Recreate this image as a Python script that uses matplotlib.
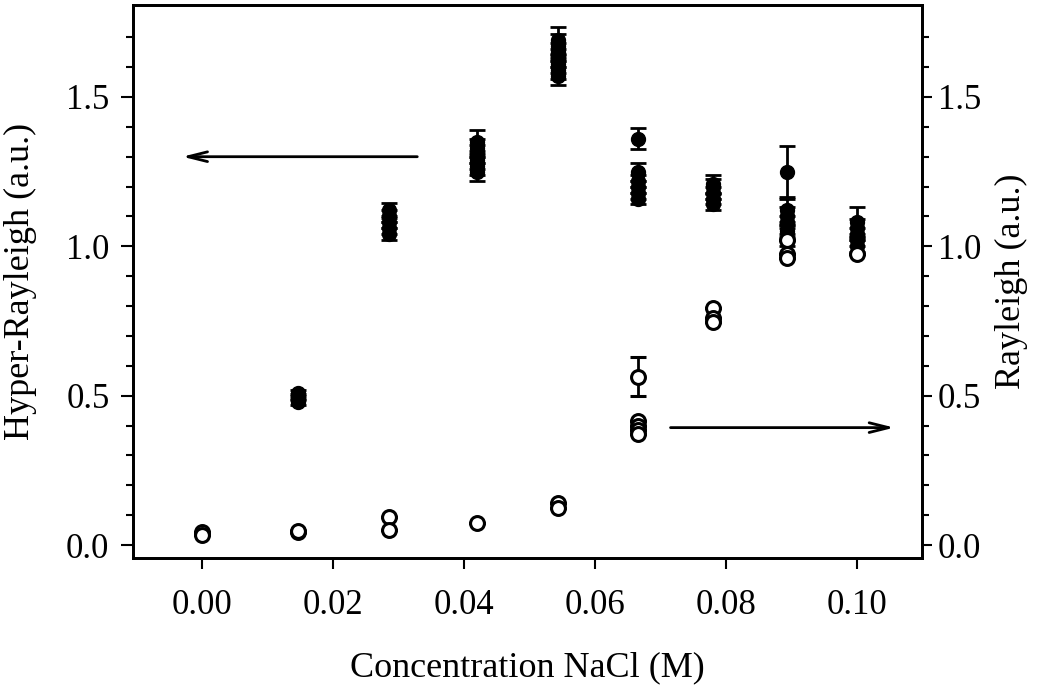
import matplotlib.pyplot as plt
import numpy as np

plt.rcParams['font.family'] = ['Liberation Serif', 'DejaVu Serif']

# Hyper-Rayleigh (filled circles, left axis)
hr_x = [0.0146] * 3 + [0.0286] * 5 + [0.042] * 6 + [0.0544] * 7 + \
       [0.0666] * 6 + [0.078] * 5 + [0.0893] * 6 + [0.100] * 5
hr_y = [0.48, 0.495, 0.51,
        1.04, 1.06, 1.08, 1.10, 1.12,
        1.25, 1.27, 1.29, 1.31, 1.33, 1.35,
        1.57, 1.59, 1.61, 1.63, 1.65, 1.67, 1.69,
        1.36, 1.16, 1.18, 1.20, 1.22, 1.25,
        1.14, 1.16, 1.18, 1.20, 1.21,
        1.25, 1.02, 1.05, 1.08, 1.10, 1.12,
        1.00, 1.02, 1.04, 1.06, 1.08]
hr_err = [0.01, 0.01, 0.01,
          0.02, 0.02, 0.02, 0.02, 0.025,
          0.03, 0.03, 0.03, 0.03, 0.03, 0.04,
          0.03, 0.03, 0.03, 0.03, 0.03, 0.04, 0.045,
          0.035, 0.02, 0.02, 0.02, 0.02, 0.03,
          0.02, 0.02, 0.02, 0.025, 0.03,
          0.085, 0.02, 0.02, 0.02, 0.03, 0.04,
          0.02, 0.02, 0.02, 0.03, 0.05]

# Rayleigh (open circles, right axis)
r_x = [0.0, 0.0, 0.0146, 0.0146, 0.0286, 0.0286, 0.042, 0.0544, 0.0544,
       0.0666, 0.0666, 0.0666, 0.0666, 0.0666,
       0.078, 0.078, 0.078, 0.0893, 0.0893, 0.0893, 0.100]
r_y = [0.045, 0.035, 0.043, 0.048, 0.093, 0.05, 0.073, 0.14, 0.123,
       0.563, 0.415, 0.40, 0.385, 0.37,
       0.795, 0.76, 0.745, 1.02, 0.975, 0.96, 0.975]
r_err = [0, 0, 0, 0, 0, 0, 0, 0, 0,
         0.065, 0, 0, 0, 0,
         0, 0, 0, 0, 0, 0, 0]

ytick_vals = [0.0, 0.5, 1.0, 1.5]
ytick_labels = ['0.0', '0.5', '1.0', '1.5']
xtick_vals = [0.0, 0.02, 0.04, 0.06, 0.08, 0.10]
xtick_labels = ['0.00', '0.02', '0.04', '0.06', '0.08', '0.10']

fig = plt.figure(figsize=(10.5, 6.9), dpi=100)
ax = fig.add_axes([0.1267, 0.1913, 0.7514, 0.8015])
ax2 = ax.twinx()

ax.errorbar(hr_x, hr_y, yerr=hr_err, fmt='o', color='black', ms=10,
            capsize=6, capthick=2, elinewidth=2, zorder=3)
ax2.errorbar(r_x, r_y, yerr=r_err, fmt='o', color='black', mfc='white',
             mec='black', mew=2.2, ms=10, capsize=6, capthick=2,
             elinewidth=2, zorder=4)

for a in (ax, ax2):
    a.set_ylim(-0.0435, 1.808)
    a.set_yticks(ytick_vals)
    a.set_yticklabels(ytick_labels)
    a.set_yticks(np.arange(0, 1.8, 0.1), minor=True)
    for s in a.spines.values():
        s.set_linewidth(2)

ax.tick_params(axis='y', which='major', length=9, width=1.5,
               labelsize=25, direction='out', pad=8)
ax.tick_params(axis='y', which='minor', length=5, width=1.5, direction='out')
ax2.tick_params(axis='y', which='major', length=7.5, width=1.5,
                labelsize=25, direction='out', pad=4)
ax2.tick_params(axis='y', which='minor', length=5, width=1.5, direction='out')

ax.set_xlim(-0.0105, 0.1099)
ax.set_xticks(xtick_vals)
ax.set_xticklabels(xtick_labels)
ax.tick_params(axis='x', length=8, width=1.5, labelsize=25, direction='out', pad=14)

ax.set_xlabel('Concentration NaCl (M)', fontsize=26, va='center')
ax.xaxis.set_label_coords(0.5, -0.199)
ax.set_ylabel('Hyper-Rayleigh (a.u.)', fontsize=26, va='center')
ax.yaxis.set_label_coords(-0.143, 0.5)
ax2.set_ylabel('Rayleigh (a.u.)', fontsize=26, va='center')
ax2.yaxis.set_label_coords(1.114, 0.5)

# arrows pointing to the axis each series belongs to
ax.annotate('', xy=(-0.0034, 1.30), xytext=(0.0333, 1.30),
            arrowprops=dict(arrowstyle='->,head_length=1.4,head_width=0.35',
                            color='black', lw=2))
ax.annotate('', xy=(0.1061, 0.393), xytext=(0.0711, 0.393),
            arrowprops=dict(arrowstyle='->,head_length=1.4,head_width=0.35',
                            color='black', lw=2))

fig.savefig('out.png', dpi=100)
